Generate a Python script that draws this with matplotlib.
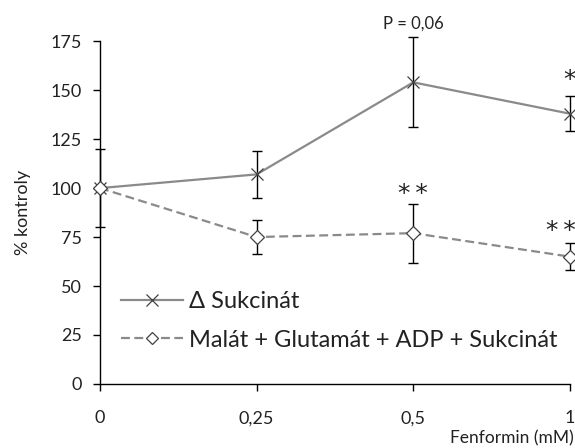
import matplotlib.pyplot as plt
import matplotlib
import numpy as np

matplotlib.use('Agg')
plt.rcParams['font.family'] = ['Lato', 'DejaVu Sans']

# data
koncentrace = ['0', '0,25', '0,5', '1']
sukcinat = [100, 107, 154, 138]
sukcinat_err = [20, 12, 23, 9]
malat = [100, 75, 77, 65]
malat_err = [0, 8.5, 15, 7]
y_ticks = [0, 25, 50, 75, 100, 125, 150, 175]

fig = plt.figure(figsize=(5.75, 4.48), dpi=100)
ax = fig.add_axes([0.174, 0.143, 0.817, 0.765])

x = np.arange(len(koncentrace))
gray = '#8a8a8a'

# chybove useky
ax.errorbar(x, sukcinat, yerr=sukcinat_err, fmt='none', ecolor='black',
            elinewidth=1.0, capsize=3.5, capthick=1.0, zorder=3, clip_on=False)
ax.errorbar(x[1:], malat[1:], yerr=malat_err[1:], fmt='none', ecolor='black',
            elinewidth=1.0, capsize=3.5, capthick=1.0, zorder=3, clip_on=False)

ax.plot(x, sukcinat, color=gray, linewidth=1.6, marker='x', markersize=9,
        markeredgecolor='#404040', markeredgewidth=0.9, label='Δ Sukcinát',
        zorder=4, clip_on=False)
ax.plot(x, malat, color=gray, linewidth=1.6, linestyle=(0, (4, 2)), marker='D',
        markersize=7, markerfacecolor='white', markeredgecolor='#404040',
        markeredgewidth=0.9, label='Malát + Glutamát + ADP + Sukcinát',
        zorder=5, clip_on=False)

# anotace
hv = '*\u2009*'
ax.text(2, 97, hv, ha='center', va='center', fontsize=18, color='#222222',
        family='DejaVu Sans')
ax.text(2.94, 78, hv, ha='center', va='center', fontsize=18, color='#222222',
        family='DejaVu Sans')
ax.text(3, 155, '*', ha='center', va='center', fontsize=18, color='#222222',
        family='DejaVu Sans')
ax.text(2, 184, 'P = 0,06', ha='center', va='center', fontsize=12, color='#222222')

ax.set_xlim(0, 3)
ax.set_ylim(0, 175)
ax.set_xticks(x)
ax.set_xticklabels(koncentrace)
ax.set_yticks(y_ticks)
ax.tick_params(axis='both', direction='out', length=5, width=1, labelsize=13,
               colors='black', labelcolor='#222222', pad=8)
ax.tick_params(axis='x', pad=14)
for s in ['top', 'right']:
    ax.spines[s].set_visible(False)
ax.spines['left'].set_linewidth(1)
ax.spines['bottom'].set_linewidth(1)

ax.set_ylabel('% kontroly', fontsize=13, color='#222222', labelpad=14)
fig.text(0.997, 0.003, 'Fenformin (mM)', ha='right', va='bottom', fontsize=12.5,
         color='#222222')

ax.legend(loc='lower left', bbox_to_anchor=(0.0, 0.035), frameon=False,
          fontsize=17, handlelength=2.6, handletextpad=0.25, labelspacing=0.75,
          labelcolor='#222222', markerscale=0.9)

fig.savefig('out.png', dpi=100)
plt.close()
